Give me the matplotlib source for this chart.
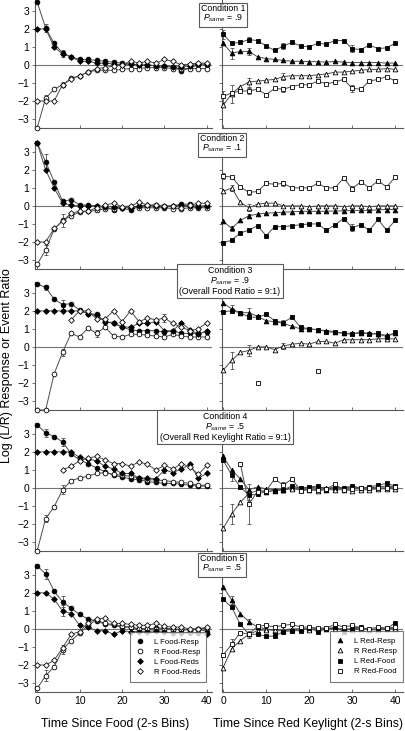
import matplotlib.pyplot as plt
import numpy as np
from matplotlib.lines import Line2D

plt.rcParams['font.family'] = ['Liberation Sans', 'DejaVu Sans']
plt.rcParams['mathtext.fontset'] = 'custom'
plt.rcParams['mathtext.rm'] = 'Liberation Sans'
plt.rcParams['mathtext.it'] = 'Liberation Sans:italic'

nan = np.nan
bins = np.arange(0, 41, 2)      # time bins (2-s bins), 21 points

# ---- Condition 1 ----
c1_LFR = [3.5, 2.05, 1.2, 0.65, 0.45, 0.3, 0.3, 0.25, 0.2, 0.15, 0.1, 0.05, 0.0, 0.0, -0.05, -0.05, -0.1, -0.35, -0.15, 0.0, 0.0]
c1_RFR = [-3.5, -1.85, -1.35, -1.1, -0.75, -0.6, -0.4, -0.3, -0.3, -0.3, -0.25, -0.2, -0.2, -0.15, -0.15, -0.15, -0.2, -0.2, -0.2, -0.2, -0.2]
c1_LFD = [2.0, 2.0, 1.0, 0.6, 0.45, 0.2, 0.2, 0.1, 0.1, 0.05, 0.0, 0.05, 0.0, 0.0, -0.05, -0.05, -0.1, -0.1, -0.05, 0.05, 0.05]
c1_RFD = [-2.0, -2.0, -2.0, -1.1, -0.8, -0.6, -0.4, -0.2, -0.15, -0.05, 0.0, 0.2, 0.1, 0.2, 0.1, 0.3, 0.2, 0.0, 0.05, 0.1, 0.1]
c1_LRR = [1.2, 0.65, 0.75, 0.75, 0.45, 0.35, 0.3, 0.25, 0.2, 0.2, 0.18, 0.18, 0.15, 0.2, 0.15, 0.13, 0.13, 0.13, 0.13, 0.1, 0.1]
c1_RRR = [-2.25, -1.6, -1.2, -0.95, -0.9, -0.85, -0.8, -0.65, -0.6, -0.6, -0.6, -0.55, -0.5, -0.4, -0.4, -0.35, -0.3, -0.25, -0.25, -0.2, -0.25]
c1_LRF = [1.7, 1.2, 1.25, 1.4, 1.35, 1.05, 0.8, 1.05, 1.25, 1.05, 1.0, 1.2, 1.15, 1.35, 1.35, 0.9, 0.85, 1.1, 0.9, 0.95, 1.2]
c1_RRF = [-1.75, -1.55, -1.45, -1.45, -1.35, -1.65, -1.3, -1.35, -1.2, -1.1, -1.1, -0.9, -1.05, -0.95, -0.8, -1.3, -1.35, -0.9, -0.8, -0.65, -0.9]
c1_err = [('LFR', 1, 0.2), ('LFR', 3, 0.2), ('RFR', 1, 0.2), ('RFR', 3, 0.15),
          ('LRF', 0, 0.25), ('LRF', 3, 0.15), ('LRF', 7, 0.15), ('LRF', 15, 0.2),
          ('LRR', 1, 0.3), ('LRR', 3, 0.2), ('RRR', 1, 0.5), ('RRR', 3, 0.25), ('RRR', 7, 0.2),
          ('RRF', 0, 0.3), ('RRF', 3, 0.15), ('RRF', 7, 0.15), ('RRF', 15, 0.2)]

# ---- Condition 2 ----
c2_LFR = [3.5, 2.45, 1.35, 0.25, 0.35, 0.05, 0.05, 0.0, -0.1, -0.2, -0.1, -0.25, 0.0, 0.0, 0.05, 0.0, 0.0, 0.1, 0.1, 0.0, 0.0]
c2_RFR = [-3.25, -2.45, -1.3, -0.8, -0.55, -0.35, -0.3, -0.25, -0.15, -0.15, -0.1, -0.1, -0.1, -0.1, -0.1, -0.1, -0.15, -0.15, -0.1, -0.1, -0.1]
c2_LFD = [3.5, 2.0, 1.0, 0.15, 0.05, 0.0, 0.0, 0.0, -0.05, -0.05, -0.1, -0.1, 0.0, 0.05, 0.0, -0.05, 0.0, 0.05, 0.0, -0.05, 0.0]
c2_RFD = [-2.0, -2.0, -1.25, -0.85, -0.4, -0.3, -0.3, -0.1, 0.05, 0.15, -0.05, 0.0, 0.2, 0.05, 0.05, 0.0, 0.0, -0.1, 0.05, 0.15, 0.15]
c2_LRR = [-0.85, -1.25, -0.8, -0.55, -0.45, -0.4, -0.38, -0.35, -0.33, -0.3, -0.3, -0.3, -0.3, -0.28, -0.28, -0.25, -0.25, -0.25, -0.22, -0.2, -0.2]
c2_RRR = [0.8, 1.0, 0.2, -0.1, 0.1, 0.15, 0.15, 0.0, 0.0, 0.0, -0.05, 0.0, 0.0, 0.0, -0.05, 0.0, 0.0, -0.05, 0.0, 0.0, 0.0]
c2_LRF = [-2.05, -1.9, -1.5, -1.35, -1.1, -1.65, -1.15, -1.15, -1.1, -1.05, -1.0, -1.0, -1.35, -1.05, -0.7, -1.2, -1.05, -1.35, -0.75, -1.35, -0.8]
c2_RRF = [1.65, 1.6, 1.05, 0.75, 0.8, 1.25, 1.2, 1.25, 1.0, 1.0, 1.0, 1.25, 1.0, 1.0, 1.55, 0.95, 1.35, 1.0, 1.4, 1.05, 1.6]
c2_err = [('LFR', 1, 0.45), ('RFR', 1, 0.3), ('RFR', 3, 0.35), ('RFR', 7, 0.1),
          ('RRF', 0, 0.15), ('RRF', 3, 0.15), ('RRF', 7, 0.15), ('RRF', 15, 0.15),
          ('RRR', 1, 0.15), ('RRR', 3, 0.2), ('LRR', 1, 0.15), ('LRR', 3, 0.1),
          ('LRF', 3, 0.1), ('LRF', 7, 0.1), ('LRF', 15, 0.2)]

# ---- Condition 3 ----
c3_LFR = [3.5, 3.3, 2.65, 2.35, 2.4, 2.05, 1.85, 1.8, 1.4, 1.3, 1.1, 0.95, 0.9, 0.9, 0.9, 0.8, 0.9, 0.75, 0.75, 0.75, 0.85]
c3_RFR = [-3.5, -3.5, -1.5, -0.3, 0.75, 0.55, 1.05, 0.75, 1.1, 0.6, 0.55, 0.7, 0.7, 0.65, 0.6, 0.55, 0.7, 0.6, 0.55, 0.55, 0.55]
c3_LFD = [2.0, 2.0, 2.0, 2.0, 2.0, 2.0, 1.85, 1.75, 1.4, 1.35, 1.1, 1.1, 1.3, 1.3, 1.4, 0.9, 0.9, 1.35, 0.95, 0.7, 0.9]
c3_RFD = [nan, nan, nan, nan, 1.5, 2.0, 2.0, 1.55, 1.55, 2.0, 1.4, 2.0, 1.4, 1.6, 1.5, 1.6, 1.3, 1.1, 0.9, 1.0, 1.35]
c3_LRR = [2.45, 2.1, 1.9, 1.9, 1.7, 1.45, 1.4, 1.3, 1.15, 1.0, 1.0, 0.95, 0.9, 0.85, 0.75, 0.75, 0.75, 0.75, 0.7, 0.65, 0.75]
c3_RRR = [-1.3, -0.75, -0.3, -0.2, 0.0, 0.0, -0.15, 0.05, 0.15, 0.2, 0.15, 0.3, 0.3, 0.2, 0.4, 0.4, 0.4, 0.4, 0.45, 0.45, 0.45]
c3_LRF = [1.95, 2.0, 1.9, 1.65, 1.65, 1.8, 1.45, 1.35, 1.65, 1.1, 1.0, 0.95, 0.85, 0.8, 0.75, 0.7, 0.85, 0.7, 0.75, 0.55, 0.8]
c3_RRF = [nan, nan, nan, nan, -2.0, nan, nan, nan, nan, nan, nan, -1.35, nan, nan, nan, nan, nan, nan, nan, nan, nan]
c3_err = [('LFR', 1, 0.15), ('LFR', 3, 0.25), ('RFR', 3, 0.2), ('RFR', 7, 0.2), ('RFD', 15, 0.2),
          ('LRR', 1, 0.2), ('LRR', 3, 0.25), ('LRF', 7, 0.15),
          ('RRR', 1, 0.45), ('RRR', 3, 0.3), ('RRR', 7, 0.15)]

# ---- Condition 4 ----
c4_LFR = [3.5, 3.05, 2.85, 2.55, 1.9, 1.55, 1.35, 1.1, 0.9, 0.7, 0.6, 0.5, 0.45, 0.35, 0.3, 0.25, 0.25, 0.2, 0.15, 0.1, 0.1]
c4_RFR = [-3.5, -1.7, -1.05, -0.1, 0.4, 0.55, 0.65, 0.8, 0.85, 0.75, 0.7, 0.65, 0.55, 0.45, 0.45, 0.4, 0.35, 0.3, 0.25, 0.15, 0.15]
c4_LFD = [2.0, 2.0, 2.0, 2.0, 2.0, 1.7, 1.6, 1.5, 1.2, 1.05, 0.8, 0.8, 0.55, 0.55, 0.5, 1.0, 0.85, 1.05, 1.3, 0.55, 0.8]
c4_RFD = [nan, nan, nan, 1.0, 1.2, 1.5, 1.65, 1.75, 1.55, 1.35, 1.35, 1.2, 1.45, 1.3, 1.0, 1.25, 1.05, 1.35, 1.15, 0.75, 1.25]
c4_LRR = [1.75, 1.0, 0.5, -0.1, 0.05, -0.05, -0.1, -0.1, 0.0, 0.0, 0.0, 0.05, 0.0, 0.0, 0.0, 0.05, 0.0, 0.0, 0.05, 0.1, 0.05]
c4_RRR = [-2.25, -1.45, -0.8, -0.3, -0.15, -0.2, -0.15, -0.1, -0.05, -0.1, -0.1, -0.15, -0.1, -0.1, -0.1, -0.15, -0.1, -0.1, -0.05, -0.05, -0.05]
c4_LRF = [1.55, 0.7, 0.05, -0.4, -0.35, -0.2, -0.15, -0.1, 0.1, 0.0, 0.05, 0.1, -0.1, 0.05, 0.0, 0.1, 0.0, 0.05, 0.15, 0.25, 0.1]
c4_RRF = [nan, nan, 1.35, -0.9, -0.2, -0.15, 0.5, 0.15, 0.5, -0.15, -0.1, -0.1, -0.05, 0.2, -0.1, -0.05, 0.0, 0.0, 0.0, 0.0, 0.05]
c4_err = [('LFR', 1, 0.2), ('LFR', 3, 0.2), ('RFR', 1, 0.2), ('RFR', 3, 0.25), ('LFD', 15, 0.2),
          ('LRF', 1, 0.3), ('LRF', 3, 0.25), ('RRR', 1, 0.55), ('RRF', 3, 1.1), ('RRF', 7, 0.15)]

# ---- Condition 5 ----
c5_LFR = [3.5, 3.05, 2.1, 1.5, 1.15, 0.8, 0.55, 0.45, 0.25, 0.2, 0.1, 0.1, 0.0, 0.0, 0.05, 0.05, 0.0, -0.05, -0.05, 0.0, -0.15]
c5_RFR = [-3.3, -2.6, -2.1, -1.15, -0.65, -0.25, 0.2, 0.5, 0.3, 0.25, 0.15, 0.1, 0.0, 0.0, 0.0, 0.0, -0.05, 0.0, -0.05, 0.0, 0.05]
c5_LFD = [2.0, 2.0, 1.65, 1.0, 0.85, 0.2, 0.1, -0.1, -0.1, -0.3, -0.1, -0.15, -0.15, -0.15, -0.1, -0.15, -0.25, -0.2, -0.25, -0.25, -0.3]
c5_RFD = [-2.0, -2.0, -1.75, -1.05, -0.3, -0.15, 0.35, 0.55, 0.6, 0.3, 0.3, 0.25, 0.2, 0.2, 0.3, 0.15, 0.1, 0.1, 0.0, 0.0, 0.1]
c5_LRR = [2.35, 1.6, 0.85, 0.4, 0.1, 0.0, -0.1, -0.1, -0.05, 0.0, 0.0, 0.0, 0.05, 0.0, 0.0, 0.0, 0.05, -0.05, 0.0, 0.0, 0.05]
c5_RRR = [-2.15, -1.1, -0.65, -0.3, -0.1, -0.05, -0.05, -0.05, 0.0, 0.0, -0.05, 0.0, 0.0, 0.0, 0.0, -0.05, 0.0, -0.05, -0.05, 0.0, 0.0]
c5_LRF = [1.65, 1.2, 0.25, -0.3, -0.3, -0.4, -0.4, -0.15, -0.1, -0.1, 0.05, -0.15, 0.0, 0.1, -0.15, 0.05, 0.1, -0.05, 0.0, 0.0, 0.35]
c5_RRF = [-1.45, -0.85, -0.2, -0.3, 0.15, 0.2, 0.1, 0.2, 0.25, 0.1, 0.1, 0.05, 0.05, 0.25, 0.1, 0.2, 0.05, 0.0, 0.1, 0.05, 0.1]
c5_err = [('LFR', 1, 0.3), ('LFR', 3, 0.3), ('LFD', 3, 0.3), ('RFR', 1, 0.3), ('RFR', 3, 0.25),
          ('LRR', 1, 0.2), ('LRR', 3, 0.15), ('RRF', 1, 0.3), ('RRF', 3, 0.2)]

cond_labels = ["Condition 1\n$P_{same}$ = .9",
               "Condition 2\n$P_{same}$ = .1",
               "Condition 3\n$P_{same}$ = .9\n(Overall Food Ratio = 9:1)",
               "Condition 4\n$P_{same}$ = .5\n(Overall Red Keylight Ratio = 9:1)",
               "Condition 5\n$P_{same}$ = .5"]

left_names = ['L Food-Resp', 'R Food-Resp', 'L Food-Reds', 'R Food-Reds']
right_names = ['L Red-Resp', 'R Red-Resp', 'L Red-Food', 'R Red-Food']

conditions = [
    dict(LFR=c1_LFR, RFR=c1_RFR, LFD=c1_LFD, RFD=c1_RFD, LRR=c1_LRR, RRR=c1_RRR, LRF=c1_LRF, RRF=c1_RRF, err=c1_err),
    dict(LFR=c2_LFR, RFR=c2_RFR, LFD=c2_LFD, RFD=c2_RFD, LRR=c2_LRR, RRR=c2_RRR, LRF=c2_LRF, RRF=c2_RRF, err=c2_err),
    dict(LFR=c3_LFR, RFR=c3_RFR, LFD=c3_LFD, RFD=c3_RFD, LRR=c3_LRR, RRR=c3_RRR, LRF=c3_LRF, RRF=c3_RRF, err=c3_err),
    dict(LFR=c4_LFR, RFR=c4_RFR, LFD=c4_LFD, RFD=c4_RFD, LRR=c4_LRR, RRR=c4_RRR, LRF=c4_LRF, RRF=c4_RRF, err=c4_err),
    dict(LFR=c5_LFR, RFR=c5_RFR, LFD=c5_LFD, RFD=c5_RFD, LRR=c5_LRR, RRR=c5_RRR, LRF=c5_LRF, RRF=c5_RRF, err=c5_err),
]

# marker style for each series key: (marker, face, size)
styles = {'LFR': ('o', 'black', 3.4), 'RFR': ('o', 'white', 3.4),
          'LFD': ('D', 'black', 2.9), 'RFD': ('D', 'white', 2.9),
          'LRR': ('^', 'black', 3.4), 'RRR': ('^', 'white', 3.4),
          'LRF': ('s', 'black', 3.0), 'RRF': ('s', 'white', 3.0)}
left_keys = ['LFR', 'RFR', 'LFD', 'RFD']
right_keys = ['LRR', 'RRR', 'LRF', 'RRF']

W, H = 405, 731
fig = plt.figure(figsize=(W / 100, H / 100), dpi=100)

# text box centres in pixels (x, y from top)
box_pos = [(223, 14), (222, 144), (230, 281), (225, 427), (222, 564)]

def style_axes(ax, show_ylabels, show_xlabels):
    ax.set_ylim(-3.5, 3.6)
    ax.set_yticks([-3, -2, -1, 0, 1, 2, 3])
    ax.set_xticks([0, 10, 20, 30, 40])
    ax.spines['top'].set_visible(False)
    ax.spines['right'].set_visible(False)
    for s in ['left', 'bottom']:
        ax.spines[s].set_color('0.35')
        ax.spines[s].set_linewidth(0.8)
    ax.tick_params(axis='y', direction='out', length=2.5, width=0.6, color='0.35',
                   labelsize=7.5, pad=1.5, labelleft=show_ylabels)
    ax.tick_params(axis='x', direction='in', length=2.5, width=0.6, color='0.35',
                   labelsize=7.5, pad=3, labelbottom=show_xlabels)
    ax.axhline(0, color='0.45', lw=0.8, zorder=1)

for i, cond in enumerate(conditions):
    top = 141 * i
    bottom = top + 128
    axl = fig.add_axes([35 / W, 1 - bottom / H, 177 / W, 128 / H])
    axr = fig.add_axes([222 / W, 1 - bottom / H, 181 / W, 128 / H])
    axl.set_xlim(-0.5, 41.2)
    axr.set_xlim(-0.25, 41.8)
    for ax in (axl, axr):
        ax.patch.set_alpha(0)
    style_axes(axl, True, i == 4)
    style_axes(axr, False, i == 4)

    for ax, keys in ((axl, left_keys), (axr, right_keys)):
        for k in keys:
            m, fc, ms = styles[k]
            ax.plot(bins, cond[k], color='0.3', lw=0.7, marker=m, ms=ms,
                    mfc=fc, mec='black', mew=0.6, zorder=3, clip_on=False)
        for k, idx, e in cond['err']:
            if k in keys:
                ax.errorbar(bins[idx], cond[k][idx], yerr=e, fmt='none',
                            ecolor='0.3', elinewidth=0.6, capsize=1.6, capthick=0.6, zorder=2)

    if i == 4:
        axl.set_xlabel('Time Since Food (2-s Bins)', fontsize=8.8)
        axl.xaxis.set_label_coords(0.45, -0.2)
        axr.set_xlabel('Time Since Red Keylight (2-s Bins)', fontsize=8.8)
        axr.xaxis.set_label_coords(0.475, -0.2)
        lh = [Line2D([], [], ls='none', marker=styles[k][0], ms=styles[k][2],
                     mfc=styles[k][1], mec='black', mew=0.6) for k in left_keys]
        leg = axl.legend(lh, left_names, loc='lower right', bbox_to_anchor=(0.99, 0.045),
                         fontsize=5.6, frameon=True, fancybox=False, edgecolor='0.35',
                         handlelength=1.0, handletextpad=1.2, borderpad=0.8, labelspacing=0.35)
        leg.get_frame().set_linewidth(0.8)
        rh = [Line2D([], [], ls='none', marker=styles[k][0], ms=styles[k][2],
                     mfc=styles[k][1], mec='black', mew=0.6) for k in right_keys]
        leg = axr.legend(rh, right_names, loc='lower right', bbox_to_anchor=(1.02, 0.05),
                         fontsize=5.6, frameon=True, fancybox=False, edgecolor='0.35',
                         handlelength=1.0, handletextpad=1.2, borderpad=0.8, labelspacing=0.35)
        leg.get_frame().set_linewidth(0.8)

    bx, by = box_pos[i]
    fig.text(bx / W, 1 - by / H, cond_labels[i], ha='center', va='center',
             fontsize=6.3, linespacing=1.05, zorder=10,
             bbox=dict(boxstyle='square,pad=0.25', fc='white', ec='0.35', lw=0.8))

fig.text(7 / W, 0.5, 'Log (L/R) Response or Event Ratio', rotation=90,
         ha='center', va='center', fontsize=9)

fig.savefig('out.png', dpi=100)
